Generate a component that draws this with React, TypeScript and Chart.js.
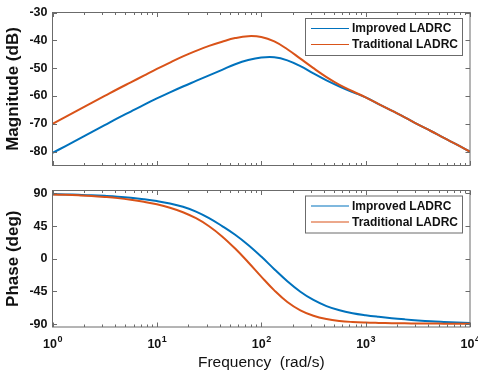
import React, { useEffect, useRef } from "react";
import { Chart, registerables } from "chart.js";
Chart.register(...registerables);

// Frequency grid (rad/s), 8 points per decade
const freqs = [
  1, 1.334, 1.778, 2.371, 3.162, 4.217, 5.623, 7.499,
  10, 13.34, 17.78, 23.71, 31.62, 42.17, 56.23, 74.99,
  100, 133.4, 177.8, 237.1, 316.2, 421.7, 562.3, 749.9,
  1000, 1334, 1778, 2371, 3162, 4217, 5623, 7499, 10000,
];

// Magnitude (dB)
const magImproved = [
  -80.5, -78.0, -75.5, -73.0, -70.5, -68.0, -65.6, -63.2,
  -60.9, -58.7, -56.6, -54.6, -52.6, -50.6, -48.6, -47.1,
  -46.2, -46.1, -47.2, -49.3, -51.9, -54.4, -56.6, -58.6,
  -60.5, -62.9, -65.3, -67.7, -70.2, -72.6, -75.1, -77.5, -80.0,
];
const magTraditional = [
  -70.0, -67.5, -65.0, -62.5, -60.0, -57.5, -55.1, -52.7,
  -50.3, -48.0, -45.8, -43.8, -42.0, -40.5, -39.2, -38.5,
  -38.8, -40.4, -43.2, -46.6, -50.0, -53.2, -56.0, -58.3,
  -60.5, -62.9, -65.3, -67.7, -70.2, -72.6, -75.1, -77.5, -80.0,
];

// Phase (deg)
const phaseImproved = [
  89.0, 88.6, 88.1, 87.5, 86.6, 85.5, 84.0, 82.0,
  79.5, 76.2, 71.6, 65.0, 56.0, 45.0, 33.0, 19.0,
  3.0, -14.4, -31.0, -45.4, -56.8, -65.2, -71.0, -75.0,
  -77.8, -80.0, -81.9, -83.5, -84.9, -86.1, -87.0, -87.8, -88.4,
];
const phaseTraditional = [
  88.5, 88.0, 87.3, 86.4, 85.1, 83.5, 81.3, 78.5,
  75.0, 70.3, 64.1, 55.8, 44.8, 30.8, 14.0, -4.8,
  -24.6, -43.6, -59.6, -71.1, -78.6, -83.1, -85.7, -87.1,
  -87.9, -88.4, -88.8, -89.0, -89.2, -89.3, -89.4, -89.5, -89.5,
];

const seriesNames = ["Improved LADRC", "Traditional LADRC"];
const seriesColors = ["#0072BD", "#D95319"];

const magTicks = [-80, -70, -60, -50, -40, -30];
const phaseTicks = [-90, -45, 0, 45, 90];
const freqTickExponents = [0, 1, 2, 3, 4];
const xTitle = "Frequency  (rad/s)";

const FONT = "'Liberation Sans', Arial, Helvetica, sans-serif";
const AXIS = "#6b6b6b";
const TEXT = "#111111";

const framePlugin = {
  id: "frame",
  afterDatasetsDraw(chart: any, _args: any, opts: any) {
    const { ctx, chartArea: a, scales } = chart;
    const xs = scales.x;
    const ys = scales.y;
    ctx.save();
    ctx.strokeStyle = AXIS;
    ctx.lineWidth = 1;
    ctx.beginPath();
    for (let e = 0; e < freqTickExponents.length; e++) {
      const base = Math.pow(10, freqTickExponents[e]);
      const px = Math.round(xs.getPixelForValue(base)) + 0.5;
      ctx.moveTo(px, a.bottom); ctx.lineTo(px, a.bottom - 4.5);
      ctx.moveTo(px, a.top); ctx.lineTo(px, a.top + 4.5);
      if (e < freqTickExponents.length - 1) {
        for (let m = 2; m <= 9; m++) {
          const p = Math.round(xs.getPixelForValue(base * m)) + 0.5;
          ctx.moveTo(p, a.bottom); ctx.lineTo(p, a.bottom - 2.5);
          ctx.moveTo(p, a.top); ctx.lineTo(p, a.top + 2.5);
        }
      }
    }
    for (const t of ys.ticks) {
      const py = Math.round(ys.getPixelForValue(t.value)) + 0.5;
      ctx.moveTo(a.left, py); ctx.lineTo(a.left + 4.5, py);
      ctx.moveTo(a.right, py); ctx.lineTo(a.right - 4.5, py);
    }
    ctx.stroke();
    ctx.strokeRect(a.left, a.top, a.right - a.left, a.bottom - a.top);

    // legend box
    const lw = 157, lh = 37;
    const lx = a.right - 8 - lw;
    const ly = a.top + opts.legendTop;
    ctx.fillStyle = "#ffffff";
    ctx.fillRect(lx, ly, lw, lh);
    ctx.strokeStyle = AXIS;
    ctx.strokeRect(lx + 0.5, ly + 0.5, lw, lh);
    ctx.font = `bold 12px ${FONT}`;
    ctx.textBaseline = "middle";
    ctx.textAlign = "left";
    chart.data.datasets.forEach((ds: any, i: number) => {
      const ry = ly + 10.5 + i * 16;
      ctx.strokeStyle = ds.borderColor;
      ctx.lineWidth = 1.2;
      ctx.beginPath();
      ctx.moveTo(lx + 6, ry);
      ctx.lineTo(lx + 44, ry);
      ctx.stroke();
      ctx.fillStyle = TEXT;
      ctx.fillText(ds.label, lx + 47, ry + 0.5);
    });

    if (opts.xLabels) {
      ctx.fillStyle = TEXT;
      ctx.textBaseline = "alphabetic";
      ctx.textAlign = "left";
      const baseY = a.bottom + 21;
      for (const e of freqTickExponents) {
        const px = xs.getPixelForValue(Math.pow(10, e));
        ctx.font = `bold 12.5px ${FONT}`;
        const w1 = ctx.measureText("10").width;
        ctx.font = `bold 9px ${FONT}`;
        const w2 = ctx.measureText(String(e)).width;
        const start = px - (w1 + w2) / 2;
        ctx.font = `bold 12.5px ${FONT}`;
        ctx.fillText("10", start, baseY);
        ctx.font = `bold 9px ${FONT}`;
        ctx.fillText(String(e), start + w1 + 0.5, baseY - 6);
      }
      ctx.font = `15.5px ${FONT}`;
      ctx.textAlign = "center";
      ctx.textBaseline = "middle";
      ctx.fillText(xTitle, (a.left + a.right) / 2, a.bottom + 36);
    }
    ctx.restore();
  },
};

function makeConfig(
  yA: number[], yB: number[], ticks: number[], min: number, max: number,
  title: string, padTop: number, padBottom: number, xLabels: boolean, legendTop: number
): any {
  const mk = (arr: number[]) => freqs.map((f, i) => ({ x: f, y: arr[i] }));
  return {
    type: "line",
    data: {
      datasets: [
        { label: seriesNames[0], data: mk(yA), borderColor: seriesColors[0], borderWidth: 2, pointRadius: 0, tension: 0.4, order: 1, fill: false },
        { label: seriesNames[1], data: mk(yB), borderColor: seriesColors[1], borderWidth: 2, pointRadius: 0, tension: 0.4, order: 0, fill: false },
      ],
    },
    options: {
      responsive: false,
      animation: false,
      events: [],
      layout: { padding: { left: 0, right: 8, top: padTop, bottom: padBottom } },
      plugins: {
        legend: { display: false },
        tooltip: { enabled: false },
        frame: { xLabels, legendTop },
      },
      scales: {
        x: { type: "logarithmic", min: 1, max: 10000, display: false },
        y: {
          type: "linear",
          min, max,
          afterFit: (s: any) => { s.width = 52.5; },
          afterBuildTicks: (s: any) => { s.ticks = ticks.map((v) => ({ value: v })); },
          grid: { display: false, drawTicks: false },
          border: { display: false },
          ticks: { padding: 5, color: TEXT, font: { family: FONT, size: 12.5, weight: "bold" } },
          title: { display: true, text: title, color: TEXT, padding: { top: 3, bottom: 0 }, font: { family: FONT, size: 17, weight: "bold" } },
        },
      },
    },
    plugins: [framePlugin],
  };
}

export default function App() {
  const topRef = useRef<HTMLCanvasElement>(null);
  const botRef = useRef<HTMLCanvasElement>(null);
  useEffect(() => {
    const c1 = new Chart(topRef.current as HTMLCanvasElement,
      makeConfig(magImproved, magTraditional, magTicks, -85, -30, "Magnitude (dB)", 8.5, 8, false, 5.5));
    const c2 = new Chart(botRef.current as HTMLCanvasElement,
      makeConfig(phaseImproved, phaseTraditional, phaseTicks, -94, 94, "Phase (deg)", 7, 48, true, 5));
    return () => { c1.destroy(); c2.destroy(); };
  }, []);
  return (
    <div style={{ position: "fixed", left: 0, top: 0, width: 478, height: 375, background: "#fff" }}>
      <canvas ref={topRef} width={478} height={178} style={{ position: "absolute", left: 0, top: 0, width: 478, height: 178 }} />
      <canvas ref={botRef} width={478} height={197} style={{ position: "absolute", left: 0, top: 178, width: 478, height: 197 }} />
    </div>
  );
}
